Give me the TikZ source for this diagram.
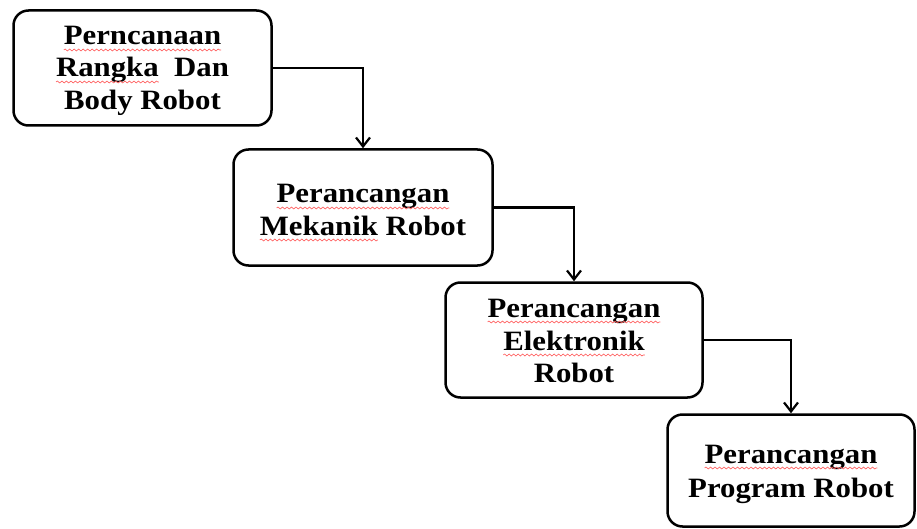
\documentclass[tikz,border=0pt]{standalone}
\usepackage{fontspec}
\setmainfont{Liberation Serif}[FakeStretch=1.1]
\usetikzlibrary{arrows.meta,decorations.pathmorphing}

\tikzset{
  stage/.style={draw=black, line width=2.5pt, rounded corners=15pt, fill=white,
    inner sep=0pt},
  txt/.style={inner sep=0pt, outer sep=0pt, anchor=base,
    font=\fontsize{28}{33}\selectfont\bfseries},
  wordspot/.style={inner sep=0pt, outer sep=0pt, anchor=base west,
    font=\fontsize{28}{33}\selectfont\bfseries},
  wave/.style={draw=red!65, line width=0.6pt, decorate,
    decoration={snake, amplitude=1pt, segment length=4.5pt}},
  flow/.style={draw=black, line width=2.5pt,
    -{Straight Barb[length=9pt,width=14pt,line width=2.2pt]}},
}
% red spell-check squiggle below a word node
\newcommand{\squiggle}[1]{\draw[wave] ([yshift=-5pt]#1.base west) -- ([yshift=-5pt]#1.base east);}

\begin{document}
\begin{tikzpicture}[x=1pt,y=-1pt]
  \fill[white] (0,0) rectangle (917,529);
  \useasboundingbox (0,0) rectangle (917,529);

  % the four design stages
  \node[stage, minimum width=258pt, minimum height=115pt] (s1) at (142.5,68) {};
  \node[stage, minimum width=259pt, minimum height=116pt] (s2) at (363,207.5) {};
  \node[stage, minimum width=257pt, minimum height=115pt] (s3) at (574,340) {};
  \node[stage, minimum width=247pt, minimum height=112pt] (s4) at (791,470.5) {};

  % stage 1 text
  \node[txt] (a1) at (142.5,45) {Perncanaan};
  \node[txt] (a2) at (142.5,77) {Rangka\ \ Dan};
  \node[wordspot] (a2w) at (a2.base west) {\phantom{Rangka}};
  \node[txt] (a3) at (142.5,110) {Body Robot};
  \squiggle{a1} \squiggle{a2w}

  % stage 2 text
  \node[txt] (b1) at (363,203) {Perancangan};
  \node[txt] (b2) at (363,235) {Mekanik Robot};
  \node[wordspot] (b2w) at (b2.base west) {\phantom{Mekanik}};
  \squiggle{b1} \squiggle{b2w}

  % stage 3 text
  \node[txt] (c1) at (574,317) {Perancangan};
  \node[txt] (c2) at (574,350) {Elektronik};
  \node[txt] (c3) at (574,382) {Robot};
  \squiggle{c1} \squiggle{c2}

  % stage 4 text
  \node[txt] (d1) at (791,463) {Perancangan};
  \node[txt] (d2) at (791,497) {Program Robot};
  \squiggle{d1}

  % flow from one stage to the next
  \draw[flow] (s1.east) -| (s2.north);
  \draw[flow] (s2.east) -| (s3.north);
  \draw[flow] (s3.east) -| (s4.north);
\end{tikzpicture}
\end{document}
